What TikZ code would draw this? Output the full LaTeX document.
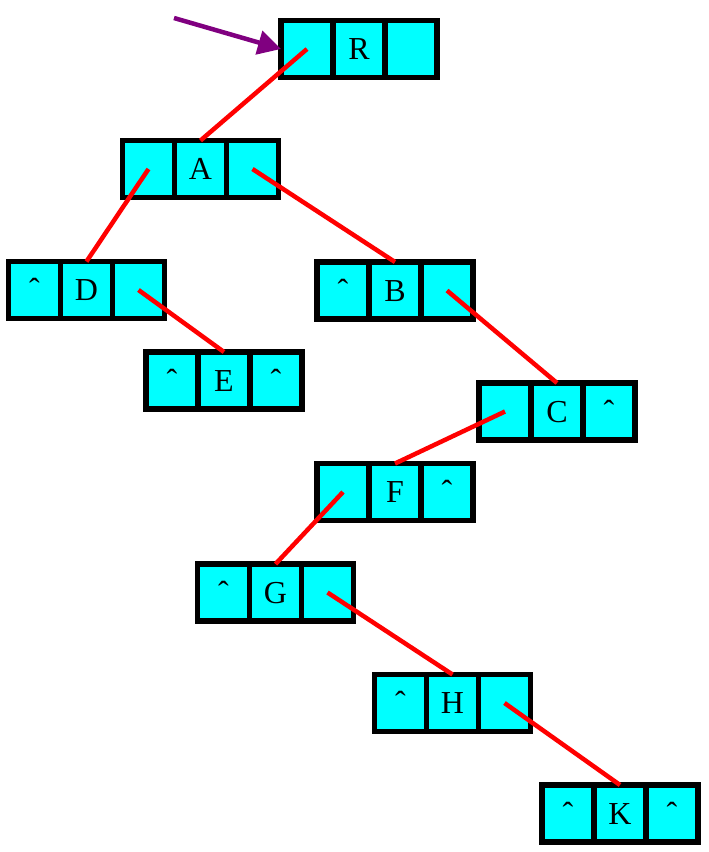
\documentclass[tikz,border=0pt]{standalone}
\usepackage{fontspec}
\setmainfont{Liberation Serif}
\usetikzlibrary{positioning,arrows.meta}

\begin{document}
\begin{tikzpicture}[x=1pt,y=1pt,yscale=-1,node distance=0pt,
    cell/.style={draw=black,line width=5.5pt,fill={rgb,255:red,0;green,255;blue,255},minimum width=52pt,minimum height=57pt,inner sep=0pt,outer sep=0pt,font=\fontsize{32}{32}\selectfont,text height=21pt,text depth=0pt},
    link/.style={draw={rgb,255:red,255;green,0;blue,0},line width=4.5pt},
    ptr/.style={draw={rgb,255:red,128;green,0;blue,128},line width=4.5pt,-{Triangle[length=23pt,width=24pt]}}]
    \useasboundingbox (0,0) rectangle (709,852);

    %List node [R]
    \node[cell] (R-m) at (359,49) {R};
    \node[cell,left=of R-m] (R-l) {};
    \node[cell,right=of R-m] (R-r) {};
    %List node [A]
    \node[cell] (A-m) at (200.5,169) {A};
    \node[cell,left=of A-m] (A-l) {};
    \node[cell,right=of A-m] (A-r) {};
    %List node [D]
    \node[cell] (D-m) at (86.5,290) {D};
    \node[cell,left=of D-m] (D-l) {ˆ};
    \node[cell,right=of D-m] (D-r) {};
    %List node [E]
    \node[cell] (E-m) at (224,380.5) {E};
    \node[cell,left=of E-m] (E-l) {ˆ};
    \node[cell,right=of E-m] (E-r) {ˆ};
    %List node [B]
    \node[cell] (B-m) at (395,290.5) {B};
    \node[cell,left=of B-m] (B-l) {ˆ};
    \node[cell,right=of B-m] (B-r) {};
    %List node [C]
    \node[cell] (C-m) at (557,411.5) {C};
    \node[cell,left=of C-m] (C-l) {};
    \node[cell,right=of C-m] (C-r) {ˆ};
    %List node [F]
    \node[cell] (F-m) at (395,492) {F};
    \node[cell,left=of F-m] (F-l) {};
    \node[cell,right=of F-m] (F-r) {ˆ};
    %List node [G]
    \node[cell] (G-m) at (275.5,592.5) {G};
    \node[cell,left=of G-m] (G-l) {ˆ};
    \node[cell,right=of G-m] (G-r) {};
    %List node [H]
    \node[cell] (H-m) at (452.5,703) {H};
    \node[cell,left=of H-m] (H-l) {ˆ};
    \node[cell,right=of H-m] (H-r) {};
    %List node [K]
    \node[cell] (K-m) at (620,813.5) {K};
    \node[cell,left=of K-m] (K-l) {ˆ};
    \node[cell,right=of K-m] (K-r) {ˆ};

    %Straight Lines [links]
    \draw[link] (R-l.center) -- (A-m.north);
    \draw[link] (A-l.center) -- (D-m.north);
    \draw[link] (A-r.center) -- (B-m.north);
    \draw[link] (D-r.center) -- (E-m.north);
    \draw[link] (B-r.center) -- (C-m.north);
    \draw[link] (C-l.center) -- (F-m.north);
    \draw[link] (F-l.center) -- (G-m.north);
    \draw[link] (G-r.center) -- (H-m.north);
    \draw[link] (H-r.center) -- (K-m.north);

    %Arrow [root pointer]
    \coordinate (root) at (174,18);
    \draw[ptr] (root) -- (R-l.west);

\end{tikzpicture}
\end{document}
